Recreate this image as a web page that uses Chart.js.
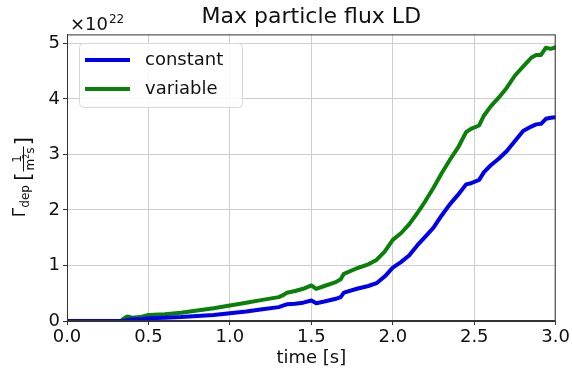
<!DOCTYPE html>
<html>
<head>
<meta charset="utf-8">
<script src="https://cdn.jsdelivr.net/npm/chart.js@4.4.1/dist/chart.umd.min.js"></script>
<style>
  html, body { margin: 0; padding: 0; background: #fff; }
  canvas { display: block; }
</style>
</head>
<body>
<canvas id="chart" width="572" height="369"></canvas>
<script>
// values are in units of 1e22 particles / (m^2 s)
const TIME = [0, 0.33, 0.35, 0.37, 0.40, 0.45, 0.50, 0.60, 0.70, 0.80, 0.90, 1.00, 1.10, 1.20, 1.30, 1.33, 1.35,
  1.40, 1.45, 1.50, 1.53, 1.58, 1.65, 1.68, 1.70, 1.78, 1.85, 1.90, 1.95, 2.00, 2.05, 2.10, 2.15, 2.20, 2.25,
  2.30, 2.35, 2.40, 2.45, 2.48, 2.53, 2.56, 2.60, 2.65, 2.70, 2.75, 2.80, 2.85, 2.88, 2.91, 2.94, 2.97, 3.00];
const CONSTANT = [0, 0, 0, 0.02, 0.03, 0.03, 0.05, 0.06, 0.07, 0.09, 0.11, 0.14, 0.17, 0.21, 0.25, 0.28, 0.30,
  0.31, 0.33, 0.37, 0.32, 0.35, 0.40, 0.43, 0.51, 0.58, 0.63, 0.68, 0.80, 0.96, 1.06, 1.18, 1.36, 1.52, 1.68,
  1.90, 2.10, 2.27, 2.46, 2.48, 2.54, 2.68, 2.80, 2.92, 3.06, 3.24, 3.42, 3.50, 3.54, 3.55, 3.64, 3.66, 3.67];
const VARIABLE = [0, 0, 0.05, 0.08, 0.06, 0.07, 0.11, 0.12, 0.15, 0.19, 0.23, 0.28, 0.33, 0.38, 0.43, 0.47, 0.51,
  0.54, 0.58, 0.64, 0.58, 0.63, 0.70, 0.75, 0.85, 0.95, 1.02, 1.10, 1.25, 1.46, 1.58, 1.74, 1.94, 2.16, 2.40,
  2.66, 2.90, 3.12, 3.40, 3.46, 3.52, 3.70, 3.86, 4.02, 4.20, 4.42, 4.58, 4.74, 4.79, 4.79, 4.92, 4.90, 4.93];
const SERIES = ['constant', 'variable'];
const X_TICKS = [0, 0.5, 1.0, 1.5, 2.0, 2.5, 3.0];
const Y_TICKS = [0, 1, 2, 3, 4, 5];
const EXPONENT = '22';

const FONT = 'DejaVu Sans';
const INK = '#111';
const COLORS = ['#0000ee', '#0a800a'];

const toPoints = (ys) => TIME.map((t, i) => ({ x: t, y: ys[i] }));
const font = (px) => `${px}px "${FONT}"`;

// box round the plot, the x10^22 label, the y title and the legend
const extras = {
  id: 'extras',
  afterDraw(chart) {
    const { ctx, chartArea: a } = chart;
    ctx.save();
    ctx.strokeStyle = '#333';
    ctx.lineWidth = 1;
    ctx.strokeRect(a.left + 0.5, a.top + 0.5, a.right - a.left - 1, a.bottom - a.top - 1);

    // multiplier
    ctx.fillStyle = INK;
    ctx.textBaseline = 'alphabetic';
    ctx.font = font(18);
    ctx.fillText('×10', 70, 30);
    const w = ctx.measureText('×10').width;
    ctx.font = font(12);
    ctx.fillText(EXPONENT, 70 + w + 1, 23);

    // y title: Γ_dep [1 / m²s], rotated
    ctx.translate(25, 177);
    ctx.rotate(-Math.PI / 2);
    const width = (txt, px) => { ctx.font = font(px); return ctx.measureText(txt).width; };
    const gw = width('Γ', 17);
    const dw = width('dep', 12);
    const bw = width('[', 22);
    const nw = width('1', 12);
    const mw = width('m', 12), sw = width('s', 12), pw = width('2', 8);
    const den = mw + pw + sw;
    const fw = Math.max(nw, den) + 2;
    const total = gw + dw + 4 + bw + 1 + fw + 1 + bw;
    let x = -total / 2;
    ctx.font = font(17);
    ctx.fillText('Γ', x, 0); x += gw;
    ctx.font = font(12);
    ctx.fillText('dep', x, 4); x += dw + 4;
    ctx.font = font(22);
    ctx.fillText('[', x, 5); x += bw + 1;
    ctx.font = font(12);
    ctx.fillText('1', x + (fw - nw) / 2, -4);
    let fx = x + (fw - den) / 2;
    ctx.fillText('m', fx, 9); fx += mw;
    ctx.font = font(8);
    ctx.fillText('2', fx, 4); fx += pw;
    ctx.font = font(12);
    ctx.fillText('s', fx, 9);
    ctx.fillRect(x, -2, fw, 1);
    x += fw + 1;
    ctx.font = font(22);
    ctx.fillText(']', x, 5);
    ctx.restore();

    // legend
    ctx.save();
    const lx = 79, ly = 43, lw = 163, lh = 64, r = 4;
    ctx.beginPath();
    ctx.roundRect(lx + 0.5, ly + 0.5, lw, lh, r);
    ctx.fillStyle = 'rgba(255,255,255,0.85)';
    ctx.fill();
    ctx.strokeStyle = '#d8d8d8';
    ctx.stroke();
    ctx.font = font(18);
    ctx.textBaseline = 'middle';
    chart.data.datasets.forEach((ds, i) => {
      const y = 60 + i * 29;
      ctx.strokeStyle = ds.borderColor;
      ctx.lineWidth = 4;
      ctx.beginPath();
      ctx.moveTo(85, y);
      ctx.lineTo(130, y);
      ctx.stroke();
      ctx.fillStyle = INK;
      ctx.fillText(ds.label, 145, y);
    });
    ctx.restore();
  }
};

new Chart(document.getElementById('chart'), {
  type: 'line',
  data: {
    datasets: [
      { label: SERIES[0], data: toPoints(CONSTANT), borderColor: COLORS[0] },
      { label: SERIES[1], data: toPoints(VARIABLE), borderColor: COLORS[1] },
    ],
  },
  options: {
    responsive: false,
    animation: false,
    devicePixelRatio: 1,
    layout: { padding: { left: 0, right: 15, top: 0, bottom: 0 } },
    elements: {
      line: { borderWidth: 4, tension: 0, borderJoinStyle: 'round', borderCapStyle: 'round', fill: false },
      point: { radius: 0 },
    },
    plugins: {
      legend: { display: false },
      tooltip: { enabled: false },
      title: {
        display: true,
        fullSize: false,
        text: 'Max particle flux LD',
        color: INK,
        font: { family: FONT, size: 22, weight: 'normal' },
        padding: { top: 4, bottom: 4 },
      },
    },
    scales: {
      x: {
        type: 'linear',
        min: 0,
        max: 3.0,
        afterBuildTicks: (s) => { s.ticks = X_TICKS.map((v) => ({ value: v })); },
        afterFit: (s) => { s.height = 48; },
        ticks: {
          color: INK,
          font: { family: FONT, size: 18 },
          padding: 2,
          maxRotation: 0,
          callback: (v) => Number(v).toFixed(1),
        },
        grid: { color: '#cfcfcf', tickColor: '#333', tickLength: 4, lineWidth: 1 },
        border: { color: '#333', width: 1 },
        title: {
          display: true,
          text: 'time [s]',
          color: INK,
          font: { family: FONT, size: 18 },
          padding: { top: 0, bottom: 0 },
        },
      },
      y: {
        min: 0,
        max: 5.16,
        afterBuildTicks: (s) => { s.ticks = Y_TICKS.map((v) => ({ value: v })); },
        afterFit: (s) => { s.width = 67; },
        ticks: {
          color: INK,
          font: { family: FONT, size: 18 },
          padding: 3,
          callback: (v) => String(v),
        },
        grid: { color: '#cfcfcf', tickColor: '#333', tickLength: 4, lineWidth: 1 },
        border: { color: '#333', width: 1 },
      },
    },
  },
  plugins: [extras],
});
</script>
</body>
</html>
